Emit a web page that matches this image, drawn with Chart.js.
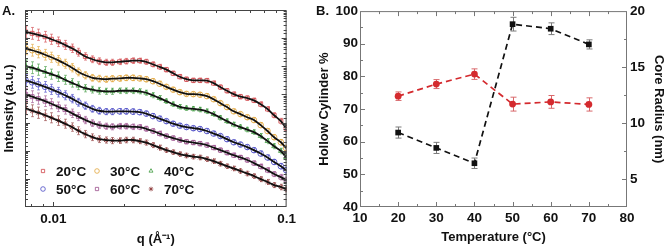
<!DOCTYPE html>
<html>
<head>
<meta charset="utf-8">
<script src="https://cdn.jsdelivr.net/npm/chart.js@4.4.1/dist/chart.umd.min.js"></script>
<style>
  html, body { margin: 0; padding: 0; background: #fff; }
  #wrap { position: relative; width: 666px; height: 247px; overflow: hidden; font-family: Arial, "Liberation Sans", sans-serif; }
  canvas { position: absolute; top: 0; }
  #chartA { left: 0; }
  #chartB { left: 300px; }
  .panel { position: absolute; top: 3px; font-weight: bold; font-size: 13px; color: #111; }
</style>
</head>
<body>
<div id="wrap">
  <canvas id="chartA" width="300" height="247"></canvas>
  <canvas id="chartB" width="366" height="247"></canvas>
  <div class="panel" style="left:2px">A.</div>
  <div class="panel" style="left:316px">B.</div>
</div>
<script>
// ---- Panel A: scattering curves (log10 of intensity, arbitrary units) ----
const qValues = [0.0076, 0.0081, 0.0086, 0.0092, 0.0098, 0.0105, 0.0112, 0.0120, 0.0128, 0.0137,
                 0.0147, 0.0157, 0.0168, 0.0179, 0.0192, 0.0205, 0.0219, 0.0234, 0.0250, 0.0267,
                 0.0285, 0.0305, 0.0326, 0.0348, 0.0372, 0.0398, 0.0425, 0.0455, 0.0486, 0.0520,
                 0.0555, 0.0593, 0.0634, 0.0678, 0.0724, 0.0774, 0.0828, 0.0884, 0.0945, 0.0995];

const logI20 = [6.22, 6.17, 6.12, 6.05, 5.96, 5.87, 5.76, 5.64, 5.50, 5.35,
                5.25, 5.18, 5.14, 5.14, 5.16, 5.18, 5.20, 5.20, 5.16, 5.07,
                4.98, 4.88, 4.75, 4.63, 4.54, 4.50, 4.50, 4.49, 4.40, 4.26,
                4.13, 4.01, 3.92, 3.87, 3.79, 3.65, 3.48, 3.26, 3.05, 2.80];
const logI30 = [5.63, 5.57, 5.50, 5.41, 5.32, 5.21, 5.09, 4.95, 4.80, 4.68,
                4.59, 4.56, 4.54, 4.56, 4.57, 4.59, 4.59, 4.57, 4.54, 4.47,
                4.38, 4.27, 4.17, 4.08, 4.02, 4.01, 3.99, 3.94, 3.83, 3.69,
                3.55, 3.40, 3.30, 3.19, 3.09, 2.91, 2.70, 2.48, 2.30, 2.09];
const logI40 = [5.01, 4.95, 4.88, 4.80, 4.72, 4.63, 4.52, 4.41, 4.31, 4.22,
                4.17, 4.13, 4.11, 4.11, 4.13, 4.13, 4.13, 4.11, 4.06, 3.97,
                3.87, 3.76, 3.65, 3.56, 3.51, 3.49, 3.46, 3.40, 3.30, 3.17,
                3.05, 2.93, 2.84, 2.75, 2.66, 2.52, 2.34, 2.16, 1.99, 1.77];
const logI50 = [4.50, 4.43, 4.36, 4.27, 4.18, 4.08, 3.97, 3.85, 3.72, 3.60,
                3.49, 3.42, 3.39, 3.39, 3.40, 3.40, 3.39, 3.37, 3.32, 3.23,
                3.14, 3.05, 2.96, 2.89, 2.84, 2.80, 2.77, 2.70, 2.61, 2.52,
                2.41, 2.30, 2.22, 2.13, 2.02, 1.90, 1.76, 1.60, 1.45, 1.31];
const logI60 = [4.00, 3.92, 3.85, 3.76, 3.67, 3.56, 3.46, 3.33, 3.21, 3.09,
                2.98, 2.91, 2.87, 2.85, 2.87, 2.87, 2.85, 2.84, 2.78, 2.70,
                2.61, 2.52, 2.45, 2.38, 2.32, 2.29, 2.25, 2.20, 2.11, 2.02,
                1.93, 1.84, 1.76, 1.67, 1.56, 1.44, 1.31, 1.17, 1.06, 0.96];
const logI70 = [3.50, 3.42, 3.35, 3.26, 3.17, 3.07, 2.96, 2.84, 2.71, 2.59,
                2.48, 2.41, 2.38, 2.36, 2.36, 2.38, 2.38, 2.34, 2.29, 2.20,
                2.11, 2.02, 1.95, 1.88, 1.83, 1.79, 1.76, 1.70, 1.63, 1.54,
                1.45, 1.37, 1.28, 1.19, 1.10, 0.99, 0.89, 0.78, 0.71, 0.64];
// error half-width in decades
const logErr = [0.22, 0.21, 0.20, 0.19, 0.18, 0.17, 0.16, 0.15, 0.14, 0.13,
                0.12, 0.12, 0.11, 0.11, 0.10, 0.10, 0.10, 0.09, 0.09, 0.09,
                0.09, 0.08, 0.08, 0.08, 0.08, 0.08, 0.08, 0.08, 0.08, 0.08,
                0.08, 0.08, 0.08, 0.08, 0.08, 0.09, 0.09, 0.09, 0.10, 0.10];

const seriesLabels = ['20°C', '30°C', '40°C', '50°C', '60°C', '70°C'];
const qTicks = [0.008, 0.009, 0.01, 0.02, 0.03, 0.04, 0.05, 0.06, 0.07, 0.08, 0.09, 0.1];
const qTickLabels = [0.01, 0.1];

// ---- Panel B ----
const tempC = [20, 30, 40, 50, 60, 70];
const hollowPct = [62.8, 58.1, 53.4, 96.0, 94.6, 89.8];
const hollowErr = [1.7, 1.7, 1.6, 2.1, 1.8, 1.4];
const coreRadius = [12.40, 13.48, 14.37, 11.69, 11.89, 11.66];
const coreErr = [0.38, 0.40, 0.47, 0.62, 0.57, 0.59];

// styles
const seriesColors = ['#d0454a', '#e2a63c', '#3f9a3f', '#4b4bc6', '#9b4f8c', '#8f3b3b'];
const seriesShapes = ['rect', 'circle', 'triangle', 'circle', 'rect', 'star'];
const FONT = 'Arial, "Liberation Sans", sans-serif';
const tickFont = { family: FONT, size: 13.5, weight: 'bold' };
const titleFont = { family: FONT, size: 13, weight: 'bold' };

function hexAlpha(hex, a) {
    const n = parseInt(hex.slice(1), 16);
    return `rgba(${(n >> 16) & 255}, ${(n >> 8) & 255}, ${n & 255}, ${a})`;
}

// box around the plot with inward ticks
function makeFrame(color, major, minor, mirror) {
    return {
        id: 'frameTicks',
        afterDatasetsDraw(chart) {
            const { ctx, chartArea: a } = chart;
            ctx.save();
            ctx.strokeStyle = color;
            ctx.lineWidth = 1;
            ctx.strokeRect(a.left + 0.5, a.top + 0.5, a.right - a.left - 1, a.bottom - a.top - 1);
            Object.values(chart.scales).forEach(s => {
                const mir = mirror.includes(s.id);
                s.ticks.forEach(t => {
                    let isMajor;
                    if (s.type === 'logarithmic') {
                        const l = Math.log10(t.value);
                        isMajor = Math.abs(l - Math.round(l)) < 1e-6;
                    } else {
                        isMajor = t.label !== '' && t.label != null;
                    }
                    const len = isMajor ? major : minor;
                    const p = Math.round(s.getPixelForValue(t.value)) + 0.5;
                    ctx.beginPath();
                    if (s.isHorizontal()) {
                        if (p < a.left + 1 || p > a.right - 1) return;
                        ctx.moveTo(p, a.bottom); ctx.lineTo(p, a.bottom - len);
                        if (mir) { ctx.moveTo(p, a.top); ctx.lineTo(p, a.top + len); }
                    } else {
                        if (p < a.top + 1 || p > a.bottom - 1) return;
                        const left = s.position === 'left';
                        const x0 = left ? a.left : a.right;
                        const x1 = left ? a.right : a.left;
                        const dir = left ? 1 : -1;
                        ctx.moveTo(x0, p); ctx.lineTo(x0 + dir * len, p);
                        if (mir) { ctx.moveTo(x1, p); ctx.lineTo(x1 - dir * len, p); }
                    }
                    ctx.stroke();
                });
            });
            ctx.restore();
        }
    };
}

// vertical error bars from errLo / errHi on each dataset
function makeErrorBars(cap, width) {
    return {
        id: 'errorBars',
        beforeDatasetsDraw(chart) {
            const { ctx, chartArea: a } = chart;
            ctx.save();
            ctx.beginPath();
            ctx.rect(a.left, a.top, a.right - a.left, a.bottom - a.top);
            ctx.clip();
            ctx.lineWidth = width;
            chart.data.datasets.forEach(ds => {
                if (!ds.errLo) return;
                const xs = chart.scales[ds.xAxisID || 'x'];
                const ys = chart.scales[ds.yAxisID || 'y'];
                ctx.strokeStyle = ds.errColor;
                ds.data.forEach((p, j) => {
                    const x = Math.round(xs.getPixelForValue(p.x)) + 0.5;
                    const y1 = ys.getPixelForValue(ds.errLo[j]);
                    const y2 = ys.getPixelForValue(ds.errHi[j]);
                    ctx.beginPath();
                    ctx.moveTo(x, y1); ctx.lineTo(x, y2);
                    ctx.moveTo(x - cap, y1); ctx.lineTo(x + cap, y1);
                    ctx.moveTo(x - cap, y2); ctx.lineTo(x + cap, y2);
                    ctx.stroke();
                });
            });
            ctx.restore();
        }
    };
}

// legend drawn inside panel A (two rows of three)
const legendA = {
    id: 'legendA',
    afterDraw(chart) {
        const ctx = chart.ctx;
        const cols = [43, 97, 151];
        const rows = [171, 189];
        ctx.save();
        seriesLabels.forEach((lab, i) => {
            const x = cols[i % 3];
            const y = rows[Math.floor(i / 3)];
            ctx.strokeStyle = hexAlpha(seriesColors[i], 0.8);
            ctx.fillStyle = 'rgba(0,0,0,0)';
            ctx.lineWidth = 1;
            Chart.helpers.drawPoint(ctx, { pointStyle: seriesShapes[i], radius: 2.3, rotation: 0, borderWidth: 1 }, x, y);
            ctx.fillStyle = '#111';
            ctx.font = 'bold 13.5px ' + FONT;
            ctx.textBaseline = 'middle';
            ctx.textAlign = 'left';
            ctx.fillText(lab, x + 13, y + 1);
        });
        ctx.restore();
    }
};

// ---------- Panel A ----------
const seriesLogs = [logI20, logI30, logI40, logI50, logI60, logI70];
const datasetsA = [];
seriesLogs.forEach((logs, i) => {
    const pts = qValues.map((q, j) => ({ x: q, y: Math.pow(10, logs[j]) }));
    datasetsA.push({
        label: seriesLabels[i] + ' fit',
        data: pts,
        borderColor: '#111',
        borderWidth: 1.8,
        pointRadius: 0,
        tension: 0.3,
        order: 0
    });
    datasetsA.push({
        label: seriesLabels[i],
        data: pts,
        showLine: false,
        pointStyle: seriesShapes[i],
        pointRadius: 2.8,
        pointBorderWidth: 1,
        pointBorderColor: hexAlpha(seriesColors[i], 0.85),
        pointBackgroundColor: 'rgba(255,255,255,0)',
        errLo: logs.map((v, j) => Math.pow(10, v - logErr[j])),
        errHi: logs.map((v, j) => Math.pow(10, v + logErr[j])),
        errColor: hexAlpha(seriesColors[i], 0.65),
        order: 1
    });
});

new Chart(document.getElementById('chartA'), {
    type: 'line',
    data: { datasets: datasetsA },
    options: {
        responsive: false,
        animation: false,
        events: [],
        layout: { padding: { top: 10, right: 9, left: 0, bottom: 0 } },
        plugins: { legend: { display: false }, tooltip: { enabled: false } },
        scales: {
            x: {
                type: 'logarithmic',
                min: 0.00755,
                max: 0.1,
                afterBuildTicks: s => { s.ticks = qTicks.map(v => ({ value: v })); },
                grid: { display: false, drawTicks: false },
                border: { display: false },
                ticks: {
                    autoSkip: false,
                    maxRotation: 0,
                    padding: 4,
                    font: tickFont,
                    color: '#111',
                    callback: v => qTickLabels.some(l => Math.abs(l - v) < 1e-9) ? String(v) : ''
                },
                title: { display: true, text: 'q (Å⁻¹)', font: titleFont, color: '#111', padding: { top: 0, bottom: 0 } },
                afterFit: s => { s.height = 40; }
            },
            y: {
                type: 'logarithmic',
                min: 1,
                max: 1e7,
                grid: { display: false, drawTicks: false },
                border: { display: false },
                ticks: { display: false },
                title: { display: true, text: 'Intensity (a.u.)', font: titleFont, color: '#111', padding: { top: 2, bottom: 0 } },
                afterFit: s => { s.width = 25; }
            }
        }
    },
    plugins: [makeErrorBars(1.5, 0.9), makeFrame('#444', 5, 3, ['x', 'y']), legendA]
});

// ---------- Panel B ----------
new Chart(document.getElementById('chartB'), {
    type: 'line',
    data: {
        datasets: [{
            label: 'Hollow Cylinder %',
            data: tempC.map((t, i) => ({ x: t, y: hollowPct[i] })),
            yAxisID: 'y',
            borderColor: '#111',
            backgroundColor: '#111',
            borderWidth: 1.7,
            borderDash: [6, 4],
            pointStyle: 'rect',
            pointRadius: 4,
            pointBorderWidth: 0,
            errLo: hollowPct.map((v, i) => v - hollowErr[i]),
            errHi: hollowPct.map((v, i) => v + hollowErr[i]),
            errColor: '#7a7a7a'
        }, {
            label: 'Core Radius (nm)',
            data: tempC.map((t, i) => ({ x: t, y: coreRadius[i] })),
            yAxisID: 'y1',
            borderColor: '#d42a2e',
            backgroundColor: '#d42a2e',
            borderWidth: 1.7,
            borderDash: [6, 4],
            pointStyle: 'circle',
            pointRadius: 3.4,
            pointBorderWidth: 0,
            errLo: coreRadius.map((v, i) => v - coreErr[i]),
            errHi: coreRadius.map((v, i) => v + coreErr[i]),
            errColor: '#d9686b'
        }]
    },
    options: {
        responsive: false,
        animation: false,
        events: [],
        layout: { padding: { top: 9, right: 0, left: 0, bottom: 0 } },
        plugins: { legend: { display: false }, tooltip: { enabled: false } },
        scales: {
            x: {
                type: 'linear',
                min: 10,
                max: 80,
                grid: { display: false, drawTicks: false },
                border: { display: false },
                ticks: {
                    stepSize: 5,
                    autoSkip: false,
                    maxRotation: 0,
                    padding: 3,
                    font: tickFont,
                    color: '#111',
                    callback: v => v % 10 === 0 ? String(v) : ''
                },
                title: { display: true, text: 'Temperature (°C)', font: titleFont, color: '#111', padding: { top: 0, bottom: 2 } },
                afterFit: s => { s.height = 40; }
            },
            y: {
                position: 'left',
                min: 40,
                max: 100,
                grid: { display: false, drawTicks: false },
                border: { display: false },
                ticks: {
                    stepSize: 5,
                    autoSkip: false,
                    padding: 2,
                    font: tickFont,
                    color: '#111',
                    callback: v => v % 10 === 0 ? String(v) : ''
                },
                title: { display: true, text: 'Hollow Cylinder %', font: titleFont, color: '#111', padding: { top: 17, bottom: 0 } },
                afterFit: s => { s.width = 60; }
            },
            y1: {
                position: 'right',
                min: 2.5,
                max: 20,
                grid: { display: false, drawTicks: false },
                border: { display: false },
                ticks: {
                    stepSize: 2.5,
                    autoSkip: false,
                    padding: 3,
                    font: tickFont,
                    color: '#111',
                    callback: v => v % 5 === 0 ? String(v) : ''
                },
                title: { display: true, text: 'Core Radius (nm)', font: titleFont, color: '#111', padding: { top: 0, bottom: 0 } },
                afterFit: s => { s.width = 39; }
            }
        }
    },
    plugins: [makeErrorBars(3, 1), makeFrame('#777', 5, 3, ['x'])]
});
</script>
</body>
</html>
